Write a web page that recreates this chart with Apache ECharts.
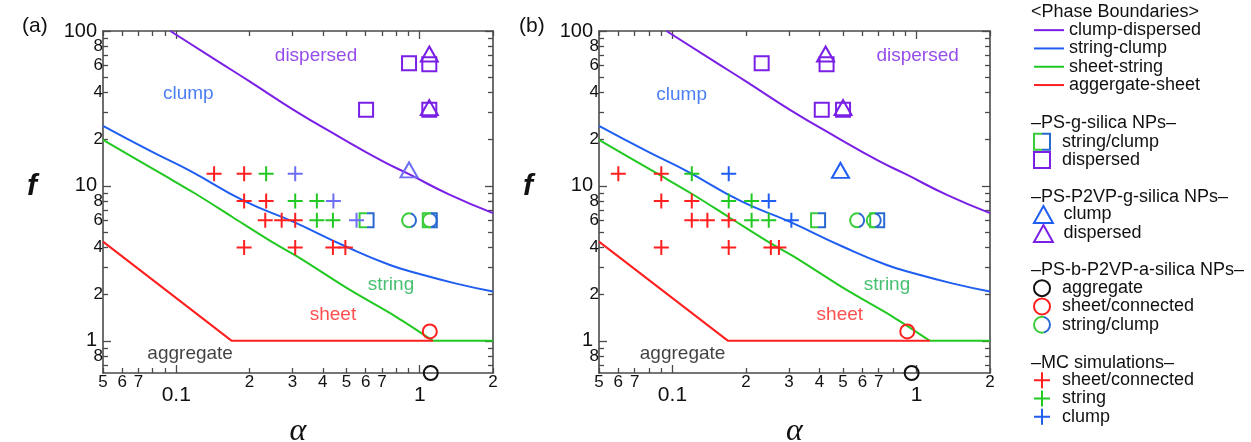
<!DOCTYPE html>
<html><head><meta charset="utf-8">
<script src="https://cdn.jsdelivr.net/npm/echarts@6/dist/echarts.min.js"></script>
<style>html,body{margin:0;padding:0;background:#fff}#c{width:1251px;height:442px}</style>
</head><body><div id="c"></div>
<script>
// ---------------- data ----------------
const X_MIN = 0.05, X_MAX = 2, Y_MIN = 0.62, Y_MAX = 100;
const xMinorTicks = [0.05,0.06,0.07,0.08,0.09,0.2,0.3,0.4,0.5,0.6,0.7,0.8,0.9,2];
const xMinorLabels = [0.05,0.06,0.07,0.2,0.3,0.4,0.5,0.6,0.7,2];
const xMajorTicks = [0.1, 1];
const yMinorTicks = [0.7,0.8,0.9,2,3,4,5,6,7,8,9,20,30,40,50,60,70,80,90];
const yMinorLabels = [0.8,2,4,6,8,20,40,60,80];
const yMajorTicks = [1, 10, 100];

// phase boundaries (same in both panels)
const clumpDispersed = [[0.0945,100],[0.15,63],[0.2,47.3],[0.303,31],[0.471,20.6],[0.7,14.5],[0.904,11.9],[1.332,8.75],[2,6.67]];
const stringClump = [[0.05,24.4],[0.08,16.5],[0.114,12.5],[0.19,8.0],[0.3,5.9],[0.5,4.05],[0.75,3.1],[1.0,2.7],[1.4,2.35],[2,2.08]];
const sheetString = [[0.05,19.8],[0.09,11.6],[0.12,8.9],[0.17,6.3],[0.25,4.3],[0.322,3.42],[0.517,2.13],[0.8,1.43],[1.135,1]];
const sheetStringFlat = [[1.135,1],[2,1]];
const aggregateSheet = [[0.05,4.37],[0.169,1],[1.135,1]];

// panel (a)
const aSqStringClump = [[0.605,6],[1.10,6]];
const aSqDispersed = [[0.904,62],[1.095,61],[0.602,31],[1.095,31]];
const aTriClump = [[0.904,12.7]];
const aTriDispersed = [[1.095,71],[1.095,32]];
const aCircAggregate = [[1.11,0.62]];
const aCircSheet = [[1.10,1.15]];
const aCircStringClump = [[0.904,6],[1.10,6]];
const aMcSheet = [[0.143,12],[0.19,12],[0.19,8],[0.234,8],[0.232,6],[0.271,6],[0.308,6],[0.19,4],[0.308,4],[0.44,4],[0.495,4]];
const aMcString = [[0.234,12],[0.308,8],[0.378,8],[0.378,6],[0.44,6]];
const aMcClump = [[0.308,12],[0.442,8],[0.55,6]];

// panel (b)
const bSqStringClump = [[0.395,6],[0.69,6]];
const bSqDispersed = [[0.232,62],[0.428,61],[0.409,31],[0.5,31]];
const bTriClump = [[0.488,12.6]];
const bTriDispersed = [[0.424,71],[0.5,32]];
const bCircAggregate = [[0.955,0.62]];
const bCircSheet = [[0.916,1.15]];
const bCircStringClump = [[0.571,6],[0.668,6]];
const bMcSheet = [[0.06,12],[0.09,12],[0.09,8],[0.12,8],[0.12,6],[0.139,6],[0.17,6],[0.09,4],[0.17,4],[0.253,4],[0.273,4]];
const bMcString = [[0.12,12],[0.17,8],[0.211,8],[0.211,6],[0.248,6]];
const bMcClump = [[0.17,12],[0.248,8],[0.307,6]];

// region annotations
const annotTexts = ['dispersed','clump','string','sheet','aggregate'];
const annotPosA = [[0.375,69],[0.112,39.2],[0.762,2.30],[0.44,1.47],[0.114,0.824]];
const annotPosB = [[1.01,69],[0.109,39],[0.757,2.3],[0.485,1.47],[0.110,0.824]];

// legend text
const lineNames = ['clump-dispersed','string-clump','sheet-string','aggergate-sheet'];
const headers = ['<Phase Boundaries>','\u2013PS-g-silica NPs\u2013','\u2013PS-P2VP-g-silica NPs\u2013','\u2013PS-b-P2VP-a-silica NPs\u2013','\u2013MC simulations\u2013'];

// ---------------- styles ----------------
const FONT = '"Liberation Sans", Arial, sans-serif';
const TXT = '#111', AXC = '#4a4a4a';
const PURPLE = '#7a1fe6', BLUE = '#1f5ef0', GREEN = '#22c822', RED = '#ff1f1f', LBLUE = '#6e6ef5', BLACK = '#111';
const SQG = '#3acb3a', SQB = '#2a6ad0';
const gradGB = (cut) => ({type:'linear', x:0, y:0, x2:1, y2:0, colorStops:[
  {offset:0,color:SQG},{offset:cut,color:SQG},{offset:cut,color:SQB},{offset:1,color:SQB}]});
const SYM_SQ = 'path://M0,0H10V10H0Z';
const SYM_TRI = 'path://M5,0L10,9H0Z';
const SYM_CIR = 'path://M10,5A5,5,0,1,1,0,5A5,5,0,1,1,10,5Z';
const SYM_PLUS = 'path://M0,8H16M8,0V16';

const minorFmt = v => { const e = Math.floor(Math.log10(v) + 1e-9); return String(Math.round(v / Math.pow(10, e))); };
const majorFmt = v => String(+(+v).toPrecision(3));

// ---------------- axes ----------------
function tick(vals, len) { return {show:true, inside:true, length:len, customValues:vals, lineStyle:{color:AXC, width:1.3}}; }
function mkX(g) {
  const b = {type:'log', logBase:10, min:X_MIN, max:X_MAX, gridIndex:g, splitLine:{show:false}, axisPointer:{show:false}, silent:true};
  const line = {show:true, onZero:false, lineStyle:{color:AXC, width:1.6}};
  return [
    Object.assign({}, b, {position:'bottom', axisLine:line, axisTick:tick(xMinorTicks,5),
      axisLabel:{show:true, customValues:xMinorLabels, formatter:minorFmt, margin:1, fontSize:17, color:TXT, fontFamily:FONT},
      name:'\u03b1', nameLocation:'middle', nameGap:43,
      nameTextStyle:{fontFamily:'"Liberation Serif", serif', fontStyle:'italic', fontSize:32, color:TXT}}),
    Object.assign({}, b, {position:'bottom', axisLine:{show:false}, axisTick:tick(xMajorTicks,8),
      axisLabel:{show:true, customValues:xMajorTicks, formatter:majorFmt, margin:12, fontSize:21, color:TXT, fontFamily:FONT}}),
    Object.assign({}, b, {position:'top', axisLine:line, axisTick:tick(xMinorTicks,5), axisLabel:{show:false}}),
    Object.assign({}, b, {position:'top', axisLine:{show:false}, axisTick:tick(xMajorTicks,8), axisLabel:{show:false}})
  ];
}
function mkY(g) {
  const b = {type:'log', logBase:10, min:Y_MIN, max:Y_MAX, gridIndex:g, splitLine:{show:false}, axisPointer:{show:false}, silent:true};
  const line = {show:true, onZero:false, lineStyle:{color:AXC, width:1.6}};
  return [
    Object.assign({}, b, {position:'left', axisLine:line, axisTick:tick(yMinorTicks,5),
      axisLabel:{show:true, customValues:yMinorLabels, formatter:minorFmt, margin:0, fontSize:17, color:TXT, fontFamily:FONT},
      name:'f', nameLocation:'middle', nameGap:66, nameRotate:0,
      nameTextStyle:{fontFamily:FONT, fontStyle:'italic', fontWeight:'bold', fontSize:30, color:TXT, verticalAlign:'bottom'}}),
    Object.assign({}, b, {position:'left', axisLine:{show:false}, axisTick:tick(yMajorTicks,8),
      axisLabel:{show:true, customValues:yMajorTicks, formatter:majorFmt, margin:6, fontSize:20, color:TXT, fontFamily:FONT}}),
    Object.assign({}, b, {position:'right', axisLine:line, axisTick:tick(yMinorTicks,5), axisLabel:{show:false}}),
    Object.assign({}, b, {position:'right', axisLine:{show:false}, axisTick:tick(yMajorTicks,8), axisLabel:{show:false}})
  ];
}

// ---------------- series ----------------
function ln(name, data, p, color, smooth) {
  return {type:'line', name, data, xAxisIndex:p*4, yAxisIndex:p*4, symbol:'none', showSymbol:false, smooth:smooth || false,
    lineStyle:{color, width:2}, itemStyle:{color}, z:3, silent:true};
}
function pts(name, data, p, symbol, size, color) {
  return {type:'scatter', name, data, xAxisIndex:p*4, yAxisIndex:p*4, symbol, symbolSize:size,
    itemStyle:{color:'rgba(0,0,0,0)', borderColor:color, borderWidth:2, opacity:1},
    z:4, clip:false, silent:true, emphasis:{disabled:true}};
}
function annot(pos, p) {
  const cols = [PURPLE, BLUE, '#18b04c', RED, BLACK];
  return {type:'scatter', data: pos.map((d,i) => ({value:d, name:annotTexts[i], label:{color:cols[i]}})),
    xAxisIndex:p*4, yAxisIndex:p*4, symbolSize:1, itemStyle:{color:'rgba(0,0,0,0)'}, silent:true, z:5,
    label:{show:true, position:'inside', formatter:'{b}', fontSize:19, fontFamily:FONT}};
}
const panels = [
  {sqSC:bSqStringClump, sqD:bSqDispersed, triC:bTriClump, triD:bTriDispersed, cA:bCircAggregate, cS:bCircSheet, cSC:bCircStringClump, mS:bMcSheet, mSt:bMcString, mC:bMcClump, cBlue:BLUE, p:1, ann:annotPosB},
  {sqSC:aSqStringClump, sqD:aSqDispersed, triC:aTriClump, triD:aTriDispersed, cA:aCircAggregate, cS:aCircSheet, cSC:aCircStringClump, mS:aMcSheet, mSt:aMcString, mC:aMcClump, cBlue:LBLUE, p:0, ann:annotPosA}
];
const series = [];
panels.forEach(P => {
  const p = P.p;
  series.push(ln(lineNames[0], clumpDispersed, p, PURPLE, 0.5));
  series.push(ln(lineNames[1], stringClump, p, BLUE, 0.5));
  series.push(ln(lineNames[2], sheetString, p, GREEN, 0.3));
  series.push(ln(lineNames[2], sheetStringFlat, p, GREEN, false));
  series.push(ln(lineNames[3], aggregateSheet, p, RED, false));
  series.push(pts('g:string/clump', P.sqSC, p, SYM_SQ, 14, gradGB(0.5)));
  series.push(pts('g:dispersed', P.sqD, p, SYM_SQ, 14, PURPLE));
  series.push(pts('p:clump', P.triC, p, SYM_TRI, [17,15], P.cBlue));
  series.push(pts('p:dispersed', P.triD, p, SYM_TRI, [17,15], PURPLE));
  series.push(pts('b:aggregate', P.cA, p, SYM_CIR, 14, BLACK));
  series.push(pts('b:sheet/connected', P.cS, p, SYM_CIR, 14, RED));
  series.push(pts('b:string/clump', P.cSC, p, SYM_CIR, 14, gradGB(0.6)));
  series.push(pts('m:sheet/connected', P.mS, p, SYM_PLUS, 15, RED));
  series.push(pts('m:string', P.mSt, p, SYM_PLUS, 15, GREEN));
  series.push(pts('m:clump', P.mC, p, SYM_PLUS, 15, P.cBlue));
  series.push(annot(P.ann, p));
});

// ---------------- legend / titles ----------------
const strip = n => n.replace(/^[a-z]+:/, '');
const lgBase = {orient:'vertical', padding:0, itemGap:0, selectedMode:false, formatter:strip,
  textStyle:{fontSize:18, lineHeight:18.3, color:TXT, fontFamily:FONT}};
const legend = [
  Object.assign({}, lgBase, {data:lineNames, left:1033, top:21, itemWidth:30, itemHeight:10, itemStyle:{opacity:0, borderWidth:0}}),
  Object.assign({}, lgBase, {data:['g:string/clump','g:dispersed'], left:1033, top:132.5, itemWidth:30, itemHeight:16}),
  Object.assign({}, lgBase, {data:['p:clump','p:dispersed'], left:1033, top:205, itemWidth:30, itemHeight:17}),
  Object.assign({}, lgBase, {data:['b:aggregate','b:sheet/connected','b:string/clump'], left:1033, top:279, itemWidth:30, itemHeight:16}),
  Object.assign({}, lgBase, {data:['m:sheet/connected','m:string','m:clump'], left:1033, top:371, itemWidth:30, itemHeight:16})
];
const headerTops = [2, 113.5, 187, 260, 353.5];
const title = headers.map((h,i) => ({text:h, left:1031, top:headerTops[i], padding:0,
  textStyle:{fontSize:18, fontWeight:'normal', color:TXT, fontFamily:FONT, lineHeight:20}}));
title.push({text:'(a)', left:22, top:16, padding:0, textStyle:{fontSize:21, fontWeight:'normal', color:TXT, fontFamily:FONT}});
title.push({text:'(b)', left:519, top:16, padding:0, textStyle:{fontSize:21, fontWeight:'normal', color:TXT, fontFamily:FONT}});

const chart = echarts.init(document.getElementById('c'), null, {renderer:'canvas'});
chart.setOption({
  animation:false,
  backgroundColor:'#fff',
  textStyle:{fontFamily:FONT},
  title,
  legend,
  grid:[
    {left:103, top:31, width:390, height:342, outerBoundsMode:'none', containLabel:false},
    {left:599, top:31, width:391, height:342, outerBoundsMode:'none', containLabel:false}
  ],
  xAxis: mkX(0).concat(mkX(1)),
  yAxis: mkY(0).concat(mkY(1)),
  series
});
</script></body></html>
